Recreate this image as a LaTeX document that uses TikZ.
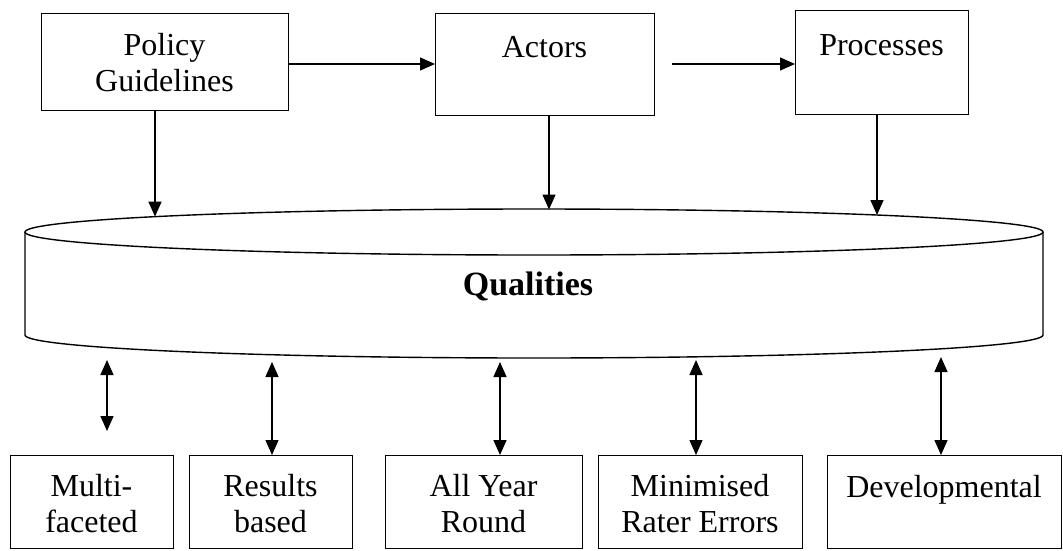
\documentclass[tikz,border=0pt]{standalone}
\usepackage{fontspec}
\setmainfont{Liberation Serif}
\usetikzlibrary{arrows.meta,calc}
\begin{document}
\begin{tikzpicture}[x=1pt,y=-1pt,
  box/.style={draw, line width=1.4pt, inner sep=0pt, anchor=north west},
  lbl/.style={font=\fontsize{32}{36}\selectfont, align=center, anchor=base, inner sep=0pt},
  qlbl/.style={font=\fontsize{34}{40}\selectfont\bfseries, anchor=base, inner sep=0pt},
  cyl/.style={line width=1.4pt},
  arr/.style={line width=1.4pt, -{Triangle[length=15pt,width=13pt]}},
  darr/.style={line width=1.4pt, {Triangle[length=15pt,width=13pt]}-{Triangle[length=15pt,width=13pt]}}]
\useasboundingbox (0,0) rectangle (1063,550);

% top boxes
\node[box, minimum width=247, minimum height=97] (pg) at (41,13) {};
\node[lbl] (pgt) at (164.5,91) {Policy\\Guidelines};
\node[box, minimum width=219, minimum height=102] (ac) at (435,13) {};
\node[lbl] (act) at (544.5,57) {Actors};
\node[box, minimum width=173, minimum height=104] (pr) at (795,10) {};
\node[lbl] (prt) at (881.5,55) {Processes};

\coordinate (row) at (0,64);
\coordinate (a2s) at (672,64);
\draw[arr] (pg.east |- row) -- (ac.west |- row);
\draw[arr] (a2s) -- (pr.west |- row);

% cylinder
\draw[cyl] (534,232) ellipse [x radius=509pt, y radius=23pt];
\draw[cyl] (25,232) -- (25,335) arc[start angle=180, end angle=360, x radius=509pt, y radius=23pt] -- (1043,232);
\node[qlbl] (q) at (528,295) {Qualities};

% arrows into cylinder
\coordinate (t1) at (155,216.6);
\coordinate (t2) at (549,209.5);
\coordinate (t3) at (877,215);
\draw[arr] (pg.south -| t1) -- (t1);
\draw[arr] (ac.south -| t2) -- (t2);
\draw[arr] (pr.south -| t3) -- (t3);

% bottom boxes
\node[box, minimum width=163, minimum height=93] (b1) at (10,455) {};
\node[lbl] (b1t) at (91.5,532) {Multi-\\faceted};
\node[box, minimum width=163, minimum height=93] (b2) at (189,455) {};
\node[lbl] (b2t) at (270.5,532) {Results\\based};
\node[box, minimum width=197, minimum height=93] (b3) at (385,455) {};
\node[lbl] (b3t) at (483.5,532) {All Year\\Round};
\node[box, minimum width=204, minimum height=93] (b4) at (598,455) {};
\node[lbl] (b4t) at (700,532) {Minimised\\Rater Errors};
\node[box, minimum width=234, minimum height=93] (b5) at (827,455) {};
\node[lbl] (b5t) at (944,497) {Developmental};

% double arrows
\coordinate (q1) at (107,360);
\coordinate (q2) at (272,362);
\coordinate (q3) at (500,362);
\coordinate (q4) at (696,360);
\coordinate (q5) at (941,357);
\coordinate (m1) at (107,431);
\draw[darr] (q1) -- (m1);
\draw[darr] (q2) -- (b2.north -| q2);
\draw[darr] (q3) -- (b3.north -| q3);
\draw[darr] (q4) -- (b4.north -| q4);
\draw[darr] (q5) -- (b5.north -| q5);
\end{tikzpicture}
\end{document}
